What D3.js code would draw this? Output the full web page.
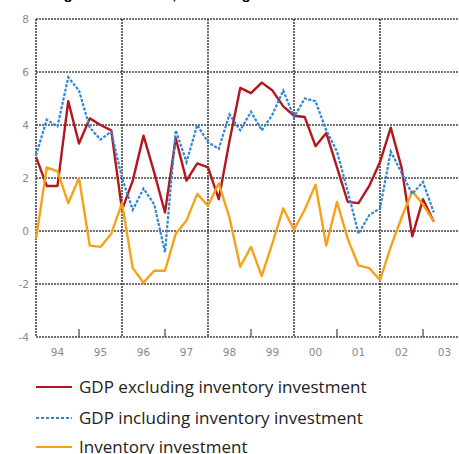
<!DOCTYPE html>
<html>
<head>
<meta charset="utf-8">
<script src="https://cdn.jsdelivr.net/npm/d3@7"></script>
<style>
  html, body { margin: 0; padding: 0; background: #fff; }
  svg { display: block; }
</style>
</head>
<body>
<svg id="chart" width="459" height="454"></svg>
<script>
// ---- data ----
const quarters = [
  "1994Q1","1994Q2","1994Q3","1994Q4","1995Q1","1995Q2","1995Q3","1995Q4",
  "1996Q1","1996Q2","1996Q3","1996Q4","1997Q1","1997Q2","1997Q3","1997Q4",
  "1998Q1","1998Q2","1998Q3","1998Q4","1999Q1","1999Q2","1999Q3","1999Q4",
  "2000Q1","2000Q2","2000Q3","2000Q4","2001Q1","2001Q2","2001Q3","2001Q4",
  "2002Q1","2002Q2","2002Q3","2002Q4","2003Q1","2003Q2"
];
const gdpExcl = [2.8,1.7,1.7,4.9,3.3,4.25,4.0,3.8,0.8,1.9,3.6,2.2,0.7,3.5,1.9,2.55,2.4,1.2,3.4,5.4,5.2,5.6,5.3,4.7,4.35,4.3,3.2,3.7,2.4,1.1,1.05,1.7,2.6,3.9,2.4,-0.2,1.2,0.35];
const gdpIncl = [2.85,4.2,3.95,5.8,5.3,3.9,3.45,3.75,2.0,0.8,1.6,1.0,-0.8,3.8,2.6,4.0,3.35,3.1,4.4,3.8,4.5,3.8,4.4,5.3,4.3,5.0,4.9,3.8,3.0,1.5,-0.1,0.6,0.85,3.0,2.2,1.4,1.85,0.7];
const inventory = [-0.3,2.4,2.25,1.05,2.0,-0.55,-0.6,-0.1,1.05,-1.4,-1.95,-1.5,-1.5,-0.1,0.4,1.4,0.95,1.8,0.5,-1.35,-0.6,-1.7,-0.45,0.85,0.05,0.8,1.75,-0.55,1.1,-0.3,-1.3,-1.4,-1.85,-0.6,0.5,1.5,1.0,0.35];
const yearLabels = ["94","95","96","97","98","99","00","01","02","03"];
const yTicks = [-4,-2,0,2,4,6,8];
const seriesNames = ["GDP excluding inventory investment","GDP including inventory investment","Inventory investment"];
const titleText = "Changes in real GDP, excluding inventories";

// ---- helpers ----
function qToYear(q){ return +q.slice(0,4) + (+q.slice(5) - 1) / 4; }

const svg = d3.select("#chart");
const x = d3.scaleLinear().domain([1994, 2004]).range([36, 466]);
const y = d3.scaleLinear().domain([-4, 8]).range([337, 19]);

// title (cut off at top edge as in the reference, only descenders visible)
const title = svg.append("text")
  .attr("x", 0).attr("y", -1.5)
  .attr("font-family", "Liberation Sans, Arial, sans-serif")
  .attr("font-size", 15).attr("font-weight", "bold")
  .attr("fill", "#000")
  .text(titleText);
try {
  const gi = titleText.indexOf("g");
  const px = title.node().getStartPositionOfChar(gi).x;
  const ext = title.node().getExtentOfChar(gi);
  title.attr("x", 68 - (px + ext.width / 2));
} catch(e) {}

// grid
const gridColor = "#444";
const g = svg.append("g");
g.selectAll("line.h").data(yTicks).enter().append("line")
  .attr("x1", x(1994)).attr("x2", 470)
  .attr("y1", d => y(d)).attr("y2", d => y(d))
  .attr("stroke", gridColor).attr("stroke-width", 1.6).attr("stroke-dasharray", "2,1");
g.selectAll("line.v").data([1994, 1996, 1998, 2000, 2002]).enter().append("line")
  .attr("x1", d => x(d)).attr("x2", d => x(d))
  .attr("y1", y(8)).attr("y2", y(-4))
  .attr("stroke", gridColor).attr("stroke-width", 1.6).attr("stroke-dasharray", "2,1");
g.selectAll("line.t").data([1995, 1997, 1999, 2001, 2003]).enter().append("line")
  .attr("x1", d => x(d)).attr("x2", d => x(d))
  .attr("y1", y(-4) - 8).attr("y2", y(-4))
  .attr("stroke", gridColor).attr("stroke-width", 1.2);

// y labels
svg.selectAll("text.yl").data(yTicks).enter().append("text")
  .attr("x", 29).attr("y", d => y(d) + 4)
  .attr("text-anchor", "end")
  .attr("font-family", "DejaVu Sans, sans-serif").attr("font-size", 10.5)
  .attr("fill", "#8a8a8a")
  .text(d => d);

// x labels
svg.selectAll("text.xl").data(yearLabels).enter().append("text")
  .attr("x", (d, i) => x(1994 + i + 0.5))
  .attr("y", 356)
  .attr("text-anchor", "middle")
  .attr("font-family", "DejaVu Sans, sans-serif").attr("font-size", 10.5)
  .attr("fill", "#8a8a8a")
  .text(d => d);

// lines
const line = d3.line().x(d => x(d[0])).y(d => y(d[1]));
const mk = arr => quarters.map((q, i) => [qToYear(q), arr[i]]);
const colors = ["#b3161c", "#2f86d4", "#f5a21a"];

svg.append("path").datum(mk(gdpExcl)).attr("d", line)
  .attr("fill", "none").attr("stroke", colors[0]).attr("stroke-width", 2.4).attr("stroke-linejoin", "round");
svg.append("path").datum(mk(inventory)).attr("d", line)
  .attr("fill", "none").attr("stroke", colors[2]).attr("stroke-width", 2.4).attr("stroke-linejoin", "round");
svg.append("path").datum(mk(gdpIncl)).attr("d", line)
  .attr("fill", "none").attr("stroke", colors[1]).attr("stroke-width", 2.2).attr("stroke-dasharray", "3,1.5");

// legend
const legY = [387, 418, 447];
const leg = svg.append("g");
seriesNames.forEach((name, i) => {
  leg.append("line")
    .attr("x1", 36).attr("x2", 72).attr("y1", legY[i]).attr("y2", legY[i])
    .attr("stroke", colors[i]).attr("stroke-width", 2)
    .attr("stroke-dasharray", i === 1 ? "3,2" : null);
  leg.append("text")
    .attr("x", 79).attr("y", legY[i] + 6)
    .attr("font-family", "Open Sans, sans-serif").attr("font-size", 17)
    .attr("fill", "#222")
    .text(name);
});
</script>
</body>
</html>
